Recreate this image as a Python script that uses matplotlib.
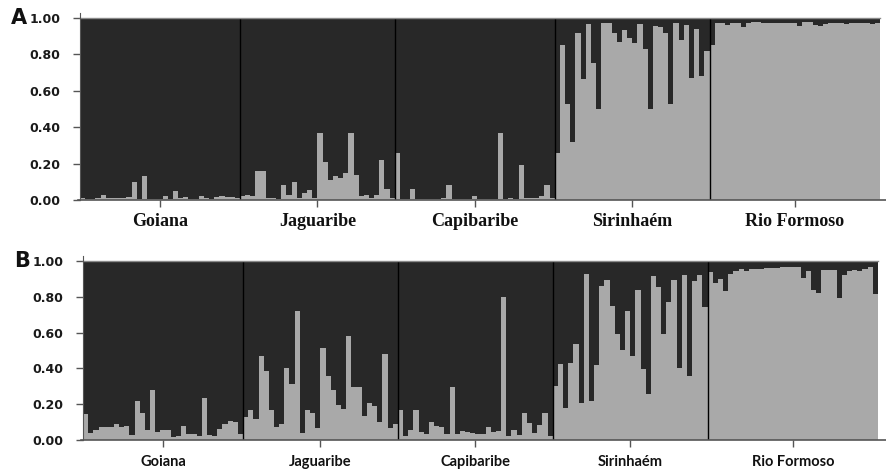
import numpy as np
import matplotlib
matplotlib.use("Agg")
import matplotlib.pyplot as plt

populations = ["Goiana", "Jaguaribe", "Capibaribe", "Sirinhaém", "Rio Formoso"]

# Membership coefficient of the light cluster per individual (panel A)
a_goiana = [0.01, 0.005, 0.005, 0.01, 0.03, 0.01, 0.01, 0.01, 0.01, 0.015, 0.10,
            0.005, 0.13, 0.005, 0.005, 0.005, 0.02, 0.005, 0.05, 0.01, 0.015,
            0.005, 0.005, 0.02, 0.01, 0.005, 0.015, 0.02, 0.015, 0.015, 0.01]
a_jaguaribe = [0.02, 0.03, 0.02, 0.16, 0.16, 0.01, 0.01, 0.005, 0.08, 0.03,
               0.10, 0.01, 0.04, 0.055, 0.01, 0.37, 0.21, 0.11, 0.13, 0.12,
               0.15, 0.37, 0.14, 0.02, 0.03, 0.01, 0.03, 0.22, 0.06, 0.01]
a_capibaribe = [0.26, 0.005, 0.005, 0.06, 0.005, 0.005, 0.005, 0.005, 0.005, 0.01,
                0.085, 0.005, 0.005, 0.005, 0.005, 0.02, 0.005, 0.005, 0.005, 0.005,
                0.37, 0.005, 0.01, 0.005, 0.19, 0.01, 0.01, 0.01, 0.02, 0.08, 0.01]
a_sirinhaem = [0.26, 0.85, 0.53, 0.32, 0.92, 0.665, 0.967, 0.755, 0.50, 0.975,
               0.975, 0.92, 0.87, 0.935, 0.89, 0.86, 0.967, 0.83, 0.50, 0.955,
               0.95, 0.915, 0.53, 0.975, 0.88, 0.96, 0.67, 0.94, 0.68, 0.82]
a_rioformoso = [0.85, 0.97, 0.975, 0.96, 0.97, 0.975, 0.95, 0.975, 0.98, 0.98,
                0.975, 0.975, 0.975, 0.975, 0.975, 0.975, 0.975, 0.955, 0.98, 0.98,
                0.96, 0.955, 0.965, 0.97, 0.97, 0.975, 0.965, 0.97, 0.97, 0.975,
                0.97, 0.965, 0.97]

# Membership coefficient of the light cluster per individual (panel B)
b_goiana = [0.145, 0.04, 0.055, 0.07, 0.075, 0.075, 0.09, 0.07, 0.08, 0.03, 0.22,
            0.15, 0.055, 0.28, 0.045, 0.055, 0.055, 0.015, 0.02, 0.08, 0.035,
            0.035, 0.025, 0.235, 0.03, 0.025, 0.06, 0.09, 0.105, 0.10, 0.035]
b_jaguaribe = [0.13, 0.17, 0.12, 0.47, 0.385, 0.165, 0.075, 0.09, 0.40, 0.315,
               0.72, 0.04, 0.165, 0.15, 0.065, 0.515, 0.36, 0.28, 0.195, 0.175,
               0.58, 0.295, 0.295, 0.135, 0.205, 0.19, 0.10, 0.48, 0.065, 0.09]
b_capibaribe = [0.165, 0.025, 0.055, 0.17, 0.045, 0.035, 0.10, 0.08, 0.07, 0.035,
                0.295, 0.035, 0.05, 0.045, 0.04, 0.035, 0.035, 0.07, 0.045, 0.05,
                0.80, 0.02, 0.055, 0.03, 0.15, 0.095, 0.04, 0.085, 0.15, 0.02]
b_sirinhaem = [0.30, 0.425, 0.18, 0.43, 0.535, 0.205, 0.925, 0.22, 0.42, 0.86,
               0.895, 0.75, 0.59, 0.505, 0.72, 0.47, 0.84, 0.395, 0.255, 0.915,
               0.855, 0.59, 0.77, 0.895, 0.40, 0.92, 0.355, 0.89, 0.92, 0.745]
b_rioformoso = [0.935, 0.875, 0.90, 0.83, 0.925, 0.945, 0.955, 0.945, 0.957, 0.955,
                0.955, 0.96, 0.96, 0.96, 0.963, 0.963, 0.965, 0.965, 0.905, 0.945,
                0.84, 0.82, 0.948, 0.95, 0.95, 0.79, 0.92, 0.945, 0.948, 0.945,
                0.957, 0.963, 0.815]

y_ticks = [0.0, 0.2, 0.4, 0.6, 0.8, 1.0]
y_tick_labels = ["0.00", "0.20", "0.40", "0.60", "0.80", "1.00"]

DARK = "#282828"
LIGHT = "#a9a9a9"

panels = [
    ("A", [a_goiana, a_jaguaribe, a_capibaribe, a_sirinhaem, a_rioformoso],
     [0.0902, 0.578, 0.9018, 0.384],
     dict(family="Liberation Serif", weight="bold", size=13), 4),
    ("B", [b_goiana, b_jaguaribe, b_capibaribe, b_sirinhaem, b_rioformoso],
     [0.0936, 0.0717, 0.8962, 0.378],
     dict(family="Lato", weight="bold", size=10.5), 6),
]

fig = plt.figure(figsize=(8.87, 4.74), dpi=100)

for letter, groups, rect, label_font, label_pad in panels:
    ax = fig.add_axes(rect)
    q = np.concatenate([np.asarray(g, float) for g in groups])
    n = len(q)
    x = np.arange(n) + 0.5
    ax.bar(x, q, width=1.0, color=LIGHT, linewidth=0)
    ax.bar(x, 1 - q, bottom=q, width=1.0, color=DARK, linewidth=0)

    sizes = [len(g) for g in groups]
    edges = np.concatenate([[0], np.cumsum(sizes)])
    for e in edges[1:-1]:
        ax.axvline(e, color="black", lw=1.0)
    centers = (edges[:-1] + edges[1:]) / 2

    ax.set_xlim(0, n)
    ax.set_ylim(0, 1)
    for s in ["top", "right"]:
        ax.spines[s].set_visible(False)
    ax.spines["left"].set_color("#555555")
    ax.spines["left"].set_bounds(0, 1.025)
    ax.spines["bottom"].set_visible(False)
    # extended baseline reaching the right edge of the figure
    ax.plot([-0.4, n + 1.5], [0, 0], color="#555555", lw=1.2,
            clip_on=False, transform=ax.get_xaxis_transform())
    ax.plot([0, n], [1, 1], color="#8a8a8a", lw=1.0, clip_on=False,
            transform=ax.get_xaxis_transform())

    ax.set_yticks(y_ticks)
    ax.set_yticklabels(y_tick_labels, family="DejaVu Sans", weight="bold",
                       size=9, color="#1a1a1a")
    ax.tick_params(axis="y", direction="out", length=5, width=1,
                   color="#555555", pad=9)
    ax.set_xticks(centers)
    ax.set_xticklabels(populations, color="#111111", **label_font)
    ax.tick_params(axis="x", direction="out", length=5, width=1,
                   color="#555555", pad=label_pad)

    ax.text(-0.087, 1.0, letter, transform=ax.transAxes, ha="left", va="center",
            family="DejaVu Sans", weight="bold", size=15, color="#111111")

fig.savefig("out.png", dpi=100)
